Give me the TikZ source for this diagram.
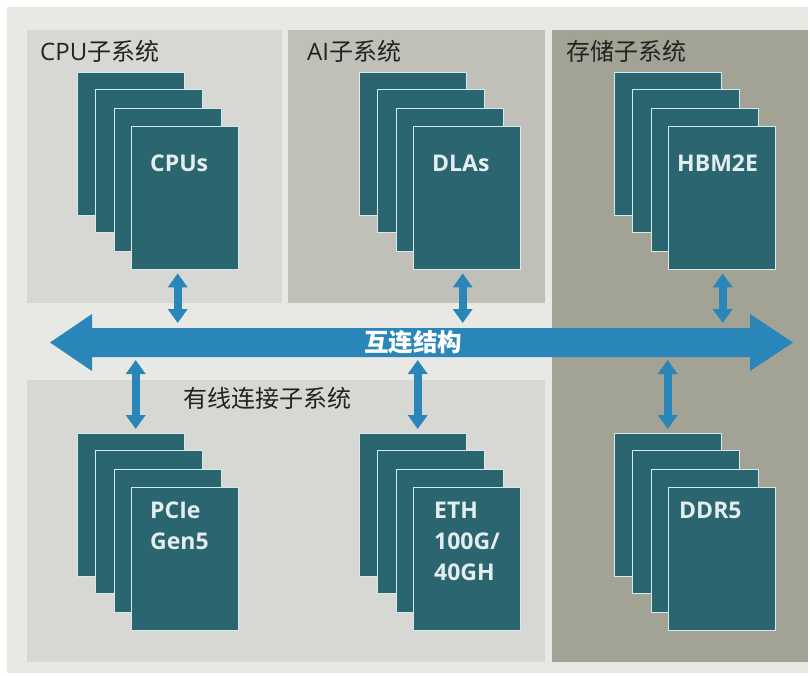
\documentclass[tikz,border=0pt]{standalone}
\usepackage{fontspec}
\setmainfont{Open Sans}
\newfontfamily\cjk{Noto Sans CJK SC}
\usetikzlibrary{arrows.meta}

\definecolor{outerbg}{HTML}{E8E9E4}
\definecolor{panellight}{HTML}{D7D7D3}
\definecolor{panelmid}{HTML}{C1C0B8}
\definecolor{paneldark}{HTML}{A2A295}
\definecolor{cardfill}{HTML}{2A6570}
\definecolor{cardedge}{HTML}{D2ECEE}
\definecolor{busblue}{HTML}{2A86B9}
\definecolor{labelink}{HTML}{222222}
\definecolor{cardink}{HTML}{E4EEEE}

% one stack of four overlapping cards, top-left card at (#2,#3)
\newcommand\cardstack[3]{%
  \foreach \i/\dx/\dy in {1/0/0,2/18/17,3/37/36,4/54/54}{%
    \node[card] (#1\i) at (#2+\dx,#3+\dy) {};
  }%
}

\begin{document}
\begin{tikzpicture}[x=1pt,y=-1pt,
  card/.style={draw=cardedge,line width=1.4pt,fill=cardfill,
    minimum width=107pt,minimum height=143pt,inner sep=0pt,anchor=north west},
  cardtext/.style={text=cardink,font=\fontsize{23}{31}\selectfont\bfseries,
    inner sep=0pt,anchor=north west,align=left},
  paneltitle/.style={text=labelink,font=\fontsize{24}{28}\selectfont,
    inner sep=0pt,anchor=west},
  link/.style={busblue,line width=8pt,
    {Triangle[width=19pt,length=14pt]}-{Triangle[width=19pt,length=14pt]}}
]
\useasboundingbox (0,0) rectangle (810,675);
\fill[white] (0,0) rectangle (810,675);
\fill[outerbg] (7,7) rectangle (808,673);

% subsystem panels
\fill[panellight] (27,30) rectangle (282,303);
\fill[panelmid]   (288,30) rectangle (545,303);
\fill[paneldark]  (552,30) rectangle (808,662);
\fill[panellight] (27,380) rectangle (545,662);

\node[paneltitle] (tcpu)  at (40,51)  {CPU{\cjk 子系统}};
\node[paneltitle] (tai)   at (307,51) {AI{\cjk 子系统}};
\node[paneltitle] (tmem)  at (566,51) {\cjk 存储子系统};
\node[paneltitle] (twire) at (183,398) {\cjk 有线连接子系统};

% card stacks
\cardstack{cpu}{77}{72}
\cardstack{dla}{359}{72}
\cardstack{hbm}{614}{72}
\cardstack{pcie}{77}{433}
\cardstack{eth}{359}{433}
\cardstack{ddr}{614}{433}

\node[cardtext] (lcpu)  at (150,155) {CPUs};
\node[cardtext] (ldla)  at (432,155) {DLAs};
\node[cardtext] (lhbm)  at (677,155) {HBM2E};
\node[cardtext] (lpcie) at (150,502) {PCIe\\Gen5};
\node[cardtext] (leth)  at (434,502) {ETH\\100G/\\40GH};
\node[cardtext] (lddr)  at (679,502) {DDR5};

% interconnect bus
\fill[busblue] (50,342.5) -- (92,314) -- (92,328) -- (750,328) -- (750,314)
  -- (793,342.5) -- (750,371) -- (750,357) -- (92,357) -- (92,371) -- cycle;
\coordinate (bustop) at (0,323);
\coordinate (busbot) at (0,360);
\node[text=white,font=\cjk\bfseries\fontsize{24.5}{28}\selectfont,inner sep=0pt]
  (bus) at (413,342.5) {互连结构};

% links between the bus and the stacks
\coordinate (acpu) at ([xshift=-7.5pt,yshift=-3pt]cpu4.south);
\coordinate (adla) at ([xshift=-4.5pt,yshift=-3pt]dla4.south);
\coordinate (ahbm) at ([xshift=0.5pt,yshift=-3pt]hbm4.south);
\draw[link] (acpu) -- (acpu |- bustop);
\draw[link] (adla) -- (adla |- bustop);
\draw[link] (ahbm) -- (ahbm |- bustop);

\coordinate (apcie) at ([xshift=4.5pt,yshift=4pt]pcie1.north);
\coordinate (aeth)  at ([xshift=4.5pt,yshift=4pt]eth1.north);
\coordinate (addr)  at ([xshift=-0.5pt,yshift=4pt]ddr1.north);
\draw[link] (apcie |- busbot) -- (apcie);
\draw[link] (aeth |- busbot) -- (aeth);
\draw[link] (addr |- busbot) -- (addr);
\end{tikzpicture}
\end{document}
